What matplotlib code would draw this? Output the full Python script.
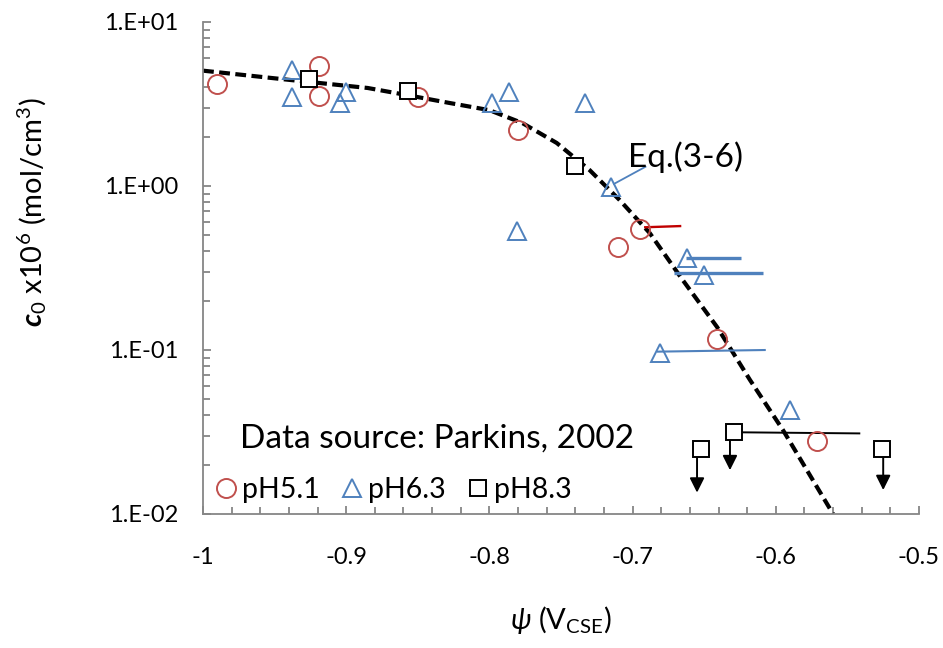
import matplotlib
matplotlib.use('Agg')
import matplotlib.pyplot as plt
from matplotlib.ticker import MultipleLocator, LogLocator, NullFormatter, FuncFormatter
import numpy as np

plt.rcParams['font.family'] = ['Lato', 'DejaVu Sans']
plt.rcParams['mathtext.fontset'] = 'custom'
plt.rcParams['mathtext.rm'] = 'Lato'
plt.rcParams['mathtext.it'] = 'Lato:italic'
plt.rcParams['mathtext.bf'] = 'Lato:italic:bold'
plt.rcParams['mathtext.fallback'] = 'stixsans'

# ---------------- data ----------------
ph51_x = [-0.990, -0.919, -0.919, -0.850, -0.780, -0.710, -0.695, -0.641, -0.571]
ph51_y = [4.19, 5.42, 3.54, 3.51, 2.19, 0.423, 0.545, 0.116, 0.0279]

ph63_x = [-0.938, -0.938, -0.900, -0.904, -0.798, -0.786, -0.733, -0.715, -0.781,
          -0.662, -0.650, -0.681, -0.590]
ph63_y = [5.09, 3.51, 3.76, 3.19, 3.22, 3.76, 3.19, 0.98, 0.533,
          0.362, 0.286, 0.0964, 0.043]

ph83_x = [-0.926, -0.857, -0.740, -0.629, -0.652, -0.526]
ph83_y = [4.47, 3.79, 1.32, 0.0315, 0.0249, 0.0249]

# upper-bound arrows (pH8.3)
arrow_x = [-0.632, -0.655, -0.525]
arrow_from = [0.0315, 0.0249, 0.0249]
arrow_to = [0.0185, 0.0135, 0.0140]

# horizontal range lines
range_x0 = [-0.692, -0.663, -0.671, -0.683, -0.627]
range_x1 = [-0.666, -0.624, -0.609, -0.607, -0.541]
range_y0 = [0.560, 0.365, 0.295, 0.0977, 0.0315]
range_y1 = [0.570, 0.365, 0.295, 0.1000, 0.0310]
range_colors = ['#C00000', '#4F81BD', '#4F81BD', '#4F81BD', '#000000']
range_widths = [1.7, 2.4, 2.4, 1.5, 1.4]

# Eq.(3-6) curve
curve_x = [-1.000, -0.939, -0.885, -0.858, -0.828, -0.800, -0.777, -0.753, -0.730,
           -0.709, -0.688, -0.665, -0.641, -0.618, -0.595, -0.560]
curve_y = [5.05, 4.43, 3.96, 3.59, 3.21, 2.90, 2.42, 1.83, 1.25,
           0.82, 0.516, 0.267, 0.138, 0.0656, 0.0325, 0.0100]

eq_label = 'Eq.(3-6)'
eq_text_xy = (-0.663, 1.50)
eq_line_x = [-0.691, -0.713]
eq_line_y = [1.31, 1.03]

# ---------------- figure ----------------
fig = plt.figure(figsize=(9.43, 6.48), dpi=100)
ax = fig.add_axes([203/943, 134/648, 716/943, 492/648])
ax.set_yscale('log')
ax.set_xlim(-1.0, -0.5)
ax.set_ylim(0.01, 10)

ax.plot(curve_x, curve_y, color='black', lw=3, ls=(0, (2.6, 1.3)), zorder=2)

for x0, x1, y0, y1, c, w in zip(range_x0, range_x1, range_y0, range_y1, range_colors, range_widths):
    ax.plot([x0, x1], [y0, y1], color=c, lw=w, solid_capstyle='butt', zorder=3)

ax.plot(ph51_x, ph51_y, 'o', ms=13.7, mfc='none', mec='#C0504D', mew=1.4, ls='none',
        label='pH5.1', zorder=4)
ax.plot(ph63_x, ph63_y, '^', ms=13.3, mfc='none', mec='#4F81BD', mew=1.4, ls='none',
        label='pH6.3', zorder=4)
ax.plot(ph83_x, ph83_y, 's', ms=11.5, mfc='white', mec='black', mew=1.4, ls='none',
        label='pH8.3', zorder=5)

for x, y0, y1 in zip(arrow_x, arrow_from, arrow_to):
    ax.annotate('', xy=(x, y1), xytext=(x, y0),
                arrowprops=dict(arrowstyle='-|>', color='black', lw=1.4,
                                shrinkA=6, shrinkB=0, mutation_scale=22), zorder=3)

ax.plot(eq_line_x, eq_line_y, color='#4F81BD', lw=1.3, zorder=3)
ax.text(eq_text_xy[0], eq_text_xy[1], eq_label, ha='center', va='center', fontsize=24)

ax.text(0.0517, 0.136, 'Data source: Parkins, 2002', transform=ax.transAxes,
        fontsize=24, ha='left', va='baseline')

leg = ax.legend(loc='lower left', bbox_to_anchor=(0.0162, 0.022), ncol=3, frameon=False,
                fontsize=20.5, handlelength=0.8, handletextpad=0.16, columnspacing=0.74,
                borderpad=0.0, borderaxespad=0.0)

# axes styling
for s in ['top', 'right']:
    ax.spines[s].set_visible(False)
for s in ['left', 'bottom']:
    ax.spines[s].set_color('#868686')
    ax.spines[s].set_linewidth(1.3)

ax.xaxis.set_major_locator(MultipleLocator(0.1))
ax.xaxis.set_minor_locator(MultipleLocator(0.02))
ax.xaxis.set_major_formatter(FuncFormatter(lambda v, p: '%g' % round(v, 2)))
ax.yaxis.set_major_locator(LogLocator(base=10, numticks=10))
ax.yaxis.set_minor_locator(LogLocator(base=10, subs=np.arange(2, 10), numticks=10))
ax.yaxis.set_minor_formatter(NullFormatter())
ax.yaxis.set_major_formatter(FuncFormatter(lambda v, p: '1.E%+03d' % int(round(np.log10(v)))))

ax.tick_params(axis='both', which='both', direction='in', color='#868686', width=1.3)
ax.tick_params(axis='both', which='major', length=6.0, labelsize=17)
ax.tick_params(axis='both', which='minor', length=4.7)
ax.tick_params(axis='y', which='major', pad=18)
ax.tick_params(axis='x', which='major', pad=24)

ax.set_xlabel(r'$\mathit{\psi}$ (V$_{\mathrm{CSE}}$)', fontsize=21)
ax.xaxis.set_label_coords((561-203)/716, (514-620)/492)
ax.xaxis.label.set_verticalalignment('center')

ax.set_ylabel(r'$\mathbf{c}_{\mathrm{0}}$ x10$^{\mathrm{6}}$ (mol/cm$^{\mathrm{3}}$)', fontsize=21)
ax.yaxis.set_label_coords((32-203)/716, (514-212)/492)
ax.yaxis.label.set_verticalalignment('center')

fig.savefig('out.png', dpi=100)
